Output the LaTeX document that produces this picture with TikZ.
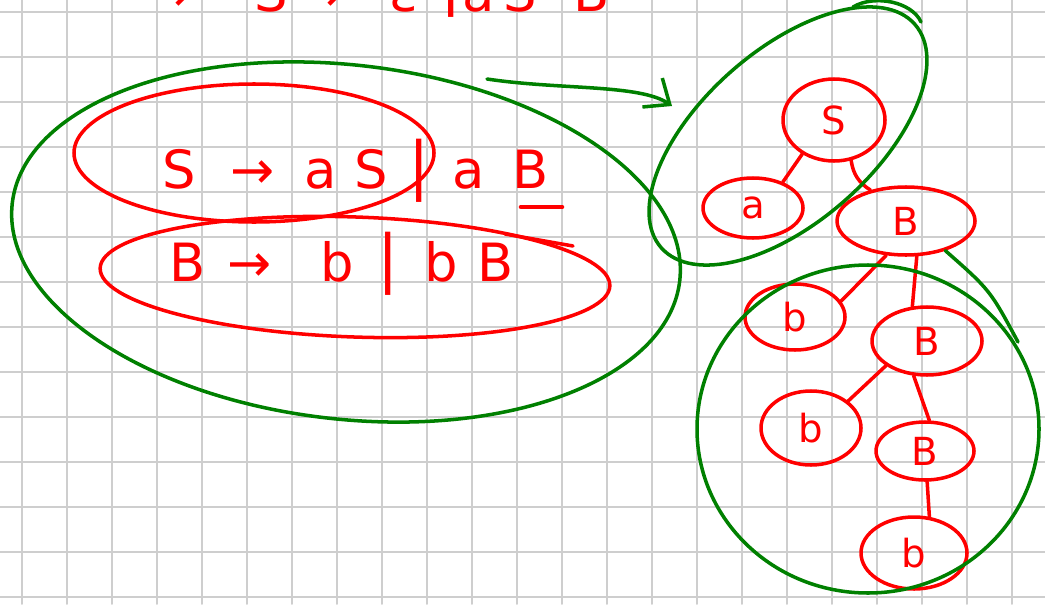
\documentclass[tikz,border=0pt]{standalone}
\usepackage{fontspec}
\setmainfont{DejaVu Sans}
\usetikzlibrary{shapes.geometric,arrows.meta}
\definecolor{hred}{RGB}{255,0,0}
\definecolor{hgreen}{RGB}{0,128,0}
\definecolor{gridc}{RGB}{206,206,206}

\begin{document}
\begin{tikzpicture}[x=0.2mm, y=-0.2mm, line cap=round, line join=round,
  rl/.style={draw=hred, line width=2pt},
  gl/.style={draw=hgreen, line width=2pt},
  big/.style={text=hred, font=\fontsize{30}{36}\selectfont, inner sep=0pt, anchor=base},
  bar/.style={text=hred, font=\fontsize{36}{40}\selectfont, inner sep=0pt},
  tn/.style 2 args={rl, ellipse, inner sep=0pt, text=hred, font=\fontsize{22}{26}\selectfont,
    minimum width=#1*0.4mm, minimum height=#2*0.4mm}]
  \useasboundingbox (0,0) rectangle (1045,604);
  \clip (0,0) rectangle (1045,604);
  \fill[white] (0,0) rectangle (1045,604);
  % squared paper
  \foreach \i in {0,...,22} \draw[gridc, line width=1.1pt] (22+45*\i,0) -- (22+45*\i,604);
  \foreach \j in {0,...,13} \draw[gridc, line width=1.1pt] (0,12+45*\j) -- (1045,12+45*\j);

  % line cut off at the top
  \foreach \t/\x [count=\k] in {→/170, S/271, →/322, ε/404, a/479, S/520, B/592}
    \node[big] (top\k) at (\x,12) {\t};
  \node[bar] (topbar) at (451,-14) {|};

  % grammar
  \foreach \t/\x [count=\k] in {S/179, →/253, a/321, S/371, a/469, B/531}
    \node[big] (ga\k) at (\x,188) {\t};
  \node[bar] (gabar) at (419,171) {|};
  \draw[rl, line width=2.6pt] (521,207) -- (562,207);
  \foreach \t/\x [count=\k] in {B/188, →/250, b/337, b/441, B/496}
    \node[big] (gb\k) at (\x,281) {\t};
  \node[bar] (gbbar) at (388,264) {|};

  \draw[rl] (254,153) ellipse [x radius=180, y radius=69];
  \draw[rl, rotate around={-2:(355,277)}] (355,277) ellipse [x radius=255, y radius=60];
  \draw[rl] (505,234) -- (573,246);
  \draw[gl, rotate around={-6.65:(346,242)}] (346,242) ellipse [x radius=336, y radius=177];

  % derivation tree
  \node[tn={51}{41}] (S) at (834,120) {S};
  \node[tn={50}{30}] (a) at (753,208) {a};
  \node[tn={69}{34}] (B1) at (906,221) {B};
  \node[tn={50}{33}] (b1) at (795,317) {b};
  \node[tn={55}{34}] (B2) at (927,341) {B};
  \node[tn={50}{37}] (b2) at (811,428) {b};
  \node[tn={49}{29}] (B3) at (925,451) {B};
  \node[tn={53}{36}] (b3) at (914,553) {b};
  \draw[rl] (S.-133) -- (a.41);
  \draw[rl] (S.-67) to[bend right=25] (B1.139);
  \draw[rl] (B1.-120) -- (b1.19);
  \draw[rl] (B1.-73) -- (B2.113);
  \draw[rl] (B2.-149) -- (b2.36);
  \draw[rl] (B2.-111) -- (B3.82);
  \draw[rl] (B3.-86) -- (b3.67);

  \draw[gl, rotate around={41.4:(788,136)}] (788,136) ellipse [x radius=169, y radius=86];
  \draw[gl] (853,7) .. controls (875,-6) and (912,2) .. (921,22);
  \draw[gl] (868,429) ellipse [x radius=171, y radius=164];

  % green links
  \coordinate (arrS) at (487,79);
  \coordinate (arrE) at (672,106);
  \draw[gl, -{Straight Barb[length=12pt, width=20pt]}] (arrS) .. controls (560,90) and (640,84) .. (arrE);
  \coordinate (gEnd) at (1018,342);
  \draw[gl] (B1.-37) .. controls (990,290) .. (gEnd);
\end{tikzpicture}
\end{document}
